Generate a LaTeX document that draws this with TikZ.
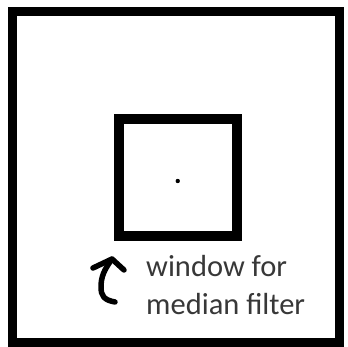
\documentclass[tikz,border=0pt]{standalone}
\usepackage{fontspec}
\setmainfont{Carlito}
\usetikzlibrary{positioning}

\begin{document}
\begin{tikzpicture}[x=1pt, y=-1pt, line join=miter]
    \useasboundingbox[fill=white] (0,0) rectangle (348,347);
    \draw[line width=9pt] (12,11.5) rectangle (339,342.5);
    \node[draw, line width=10pt, minimum width=117.5pt, minimum height=117pt, inner sep=0pt] (win) at (177.75,177.5) {};
    \fill (win.center) ++(0,3.5) circle (2.2pt);
    \node[anchor=north west, align=left, text=black!78, font=\fontsize{30.5}{38}\selectfont, inner sep=0pt] (lbl) at (146,255) {window for\\median filter};
    % hand drawn arrow
    \coordinate (tip) at (112,259);
    \draw[line width=5.5pt, line cap=round, line join=round] (115,302) .. controls (104,300) and (101,296) .. (101,287) .. controls (101,277) and (104,270) .. (tip);
    \draw[line width=5.5pt, line cap=round, line join=round] (93,268) -- (tip) -- (124,270);
\end{tikzpicture}
\end{document}
